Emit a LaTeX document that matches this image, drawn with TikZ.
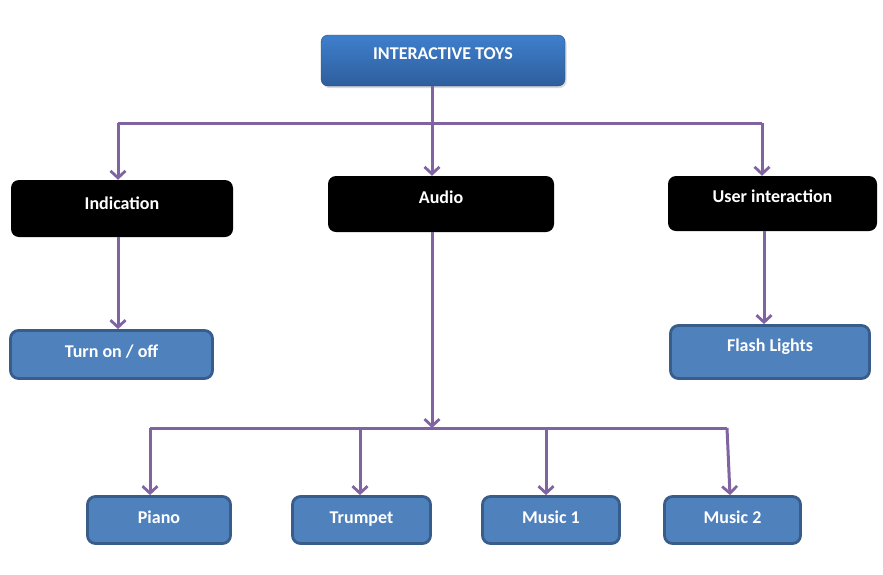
\documentclass[tikz,border=0pt]{standalone}
\usepackage{fontspec}
\setmainfont{Carlito}
\usetikzlibrary{positioning, arrows.meta, shadows}

\definecolor{linkpurple}{HTML}{8064A2}
\definecolor{leafblue}{HTML}{4F81BD}
\definecolor{leafedge}{HTML}{385D8A}
\definecolor{toptop}{HTML}{3E7FCD}
\definecolor{topbottom}{HTML}{2E5E9C}

\begin{document}
\begin{tikzpicture}[
    x=1pt, y=-1pt,
    link/.style={linkpurple, line width=3pt},
    arrow/.style={link, -{Straight Barb[length=7pt, width=15pt, line width=2.8pt]}},
    boxtext/.style={text=white, font=\fontsize{18}{21}\selectfont\bfseries, text height=10pt},
    topbox/.style={boxtext, rounded corners=7pt, top color=toptop, bottom color=topbottom,
        draw=topbottom!80!black, line width=0.4pt, drop shadow={opacity=0.3, shadow xshift=1.5pt, shadow yshift=-2pt}},
    catbox/.style={boxtext, rounded corners=8pt, fill=black},
    leafbox/.style={boxtext, rounded corners=8pt, fill=leafblue, draw=leafedge, line width=2.8pt}
]

    \useasboundingbox (0, 0) rectangle (883, 574);

    % Top box
    \node[topbox, minimum width=244pt, minimum height=51pt, text depth=13pt] (toys) at (443, 60.5) {INTERACTIVE TOYS};

    % Categories
    \node[catbox, minimum width=222pt, minimum height=57pt, text depth=9pt] (ind) at (122, 208.5) {Indication};
    \node[catbox, minimum width=226pt, minimum height=56pt, text depth=12pt] (audio) at (441, 204) {Audio};
    \node[catbox, minimum width=209pt, minimum height=55pt, text depth=12pt] (user) at (772.5, 203.5) {User interaction};

    % Leaves
    \node[leafbox, minimum width=202pt, minimum height=48pt, text depth=5pt] (turn) at (111.5, 354.5) {Turn on / off};
    \node[leafbox, minimum width=199pt, minimum height=53pt, text depth=12pt] (flash) at (770, 352) {Flash Lights};
    \node[leafbox, minimum width=143pt, minimum height=47pt, text depth=4pt] (piano) at (159, 520) {Piano};
    \node[leafbox, minimum width=138pt, minimum height=47pt, text depth=4pt] (trumpet) at (361.5, 520) {Trumpet};
    \node[leafbox, minimum width=137pt, minimum height=47pt, text depth=4pt] (music1) at (551, 520) {Music 1};
    \node[leafbox, minimum width=136pt, minimum height=47pt, text depth=4pt] (music2) at (732.5, 520) {Music 2};

    % Junction points
    \coordinate (topL) at (118, 123);
    \coordinate (topM) at (432, 123);
    \coordinate (topR) at (762, 123);
    \coordinate (lowL) at (150, 428);
    \coordinate (lowM) at (432, 428);
    \coordinate (lowT) at (360, 428);
    \coordinate (lowS) at (546, 428);
    \coordinate (lowR) at (727, 428);

    % Upper links
    \draw[link] (topM |- toys.south) -- (topM);
    \draw[link] (topL) -- (topR);
    \draw[arrow] (topL) -- (topL |- ind.north);
    \draw[arrow] (topM) -- (topM |- audio.north);
    \draw[arrow] (topR) -- (topR |- user.north);

    % Side links
    \draw[arrow] (topL |- ind.south) -- (topL |- turn.north);
    \draw[arrow] ([xshift=2pt]topR |- user.south) -- ([xshift=2pt]topR |- flash.north);

    % Lower links
    \draw[arrow] (lowM |- audio.south) -- (lowM);
    \draw[link] (lowL) -- (lowR);
    \draw[arrow] (lowL) -- (lowL |- piano.north);
    \draw[arrow] (lowT) -- (lowT |- trumpet.north);
    \draw[arrow] (lowS) -- (lowS |- music1.north);
    \draw[arrow] (lowR) -- ([xshift=3pt]lowR |- music2.north);

\end{tikzpicture}
\end{document}
